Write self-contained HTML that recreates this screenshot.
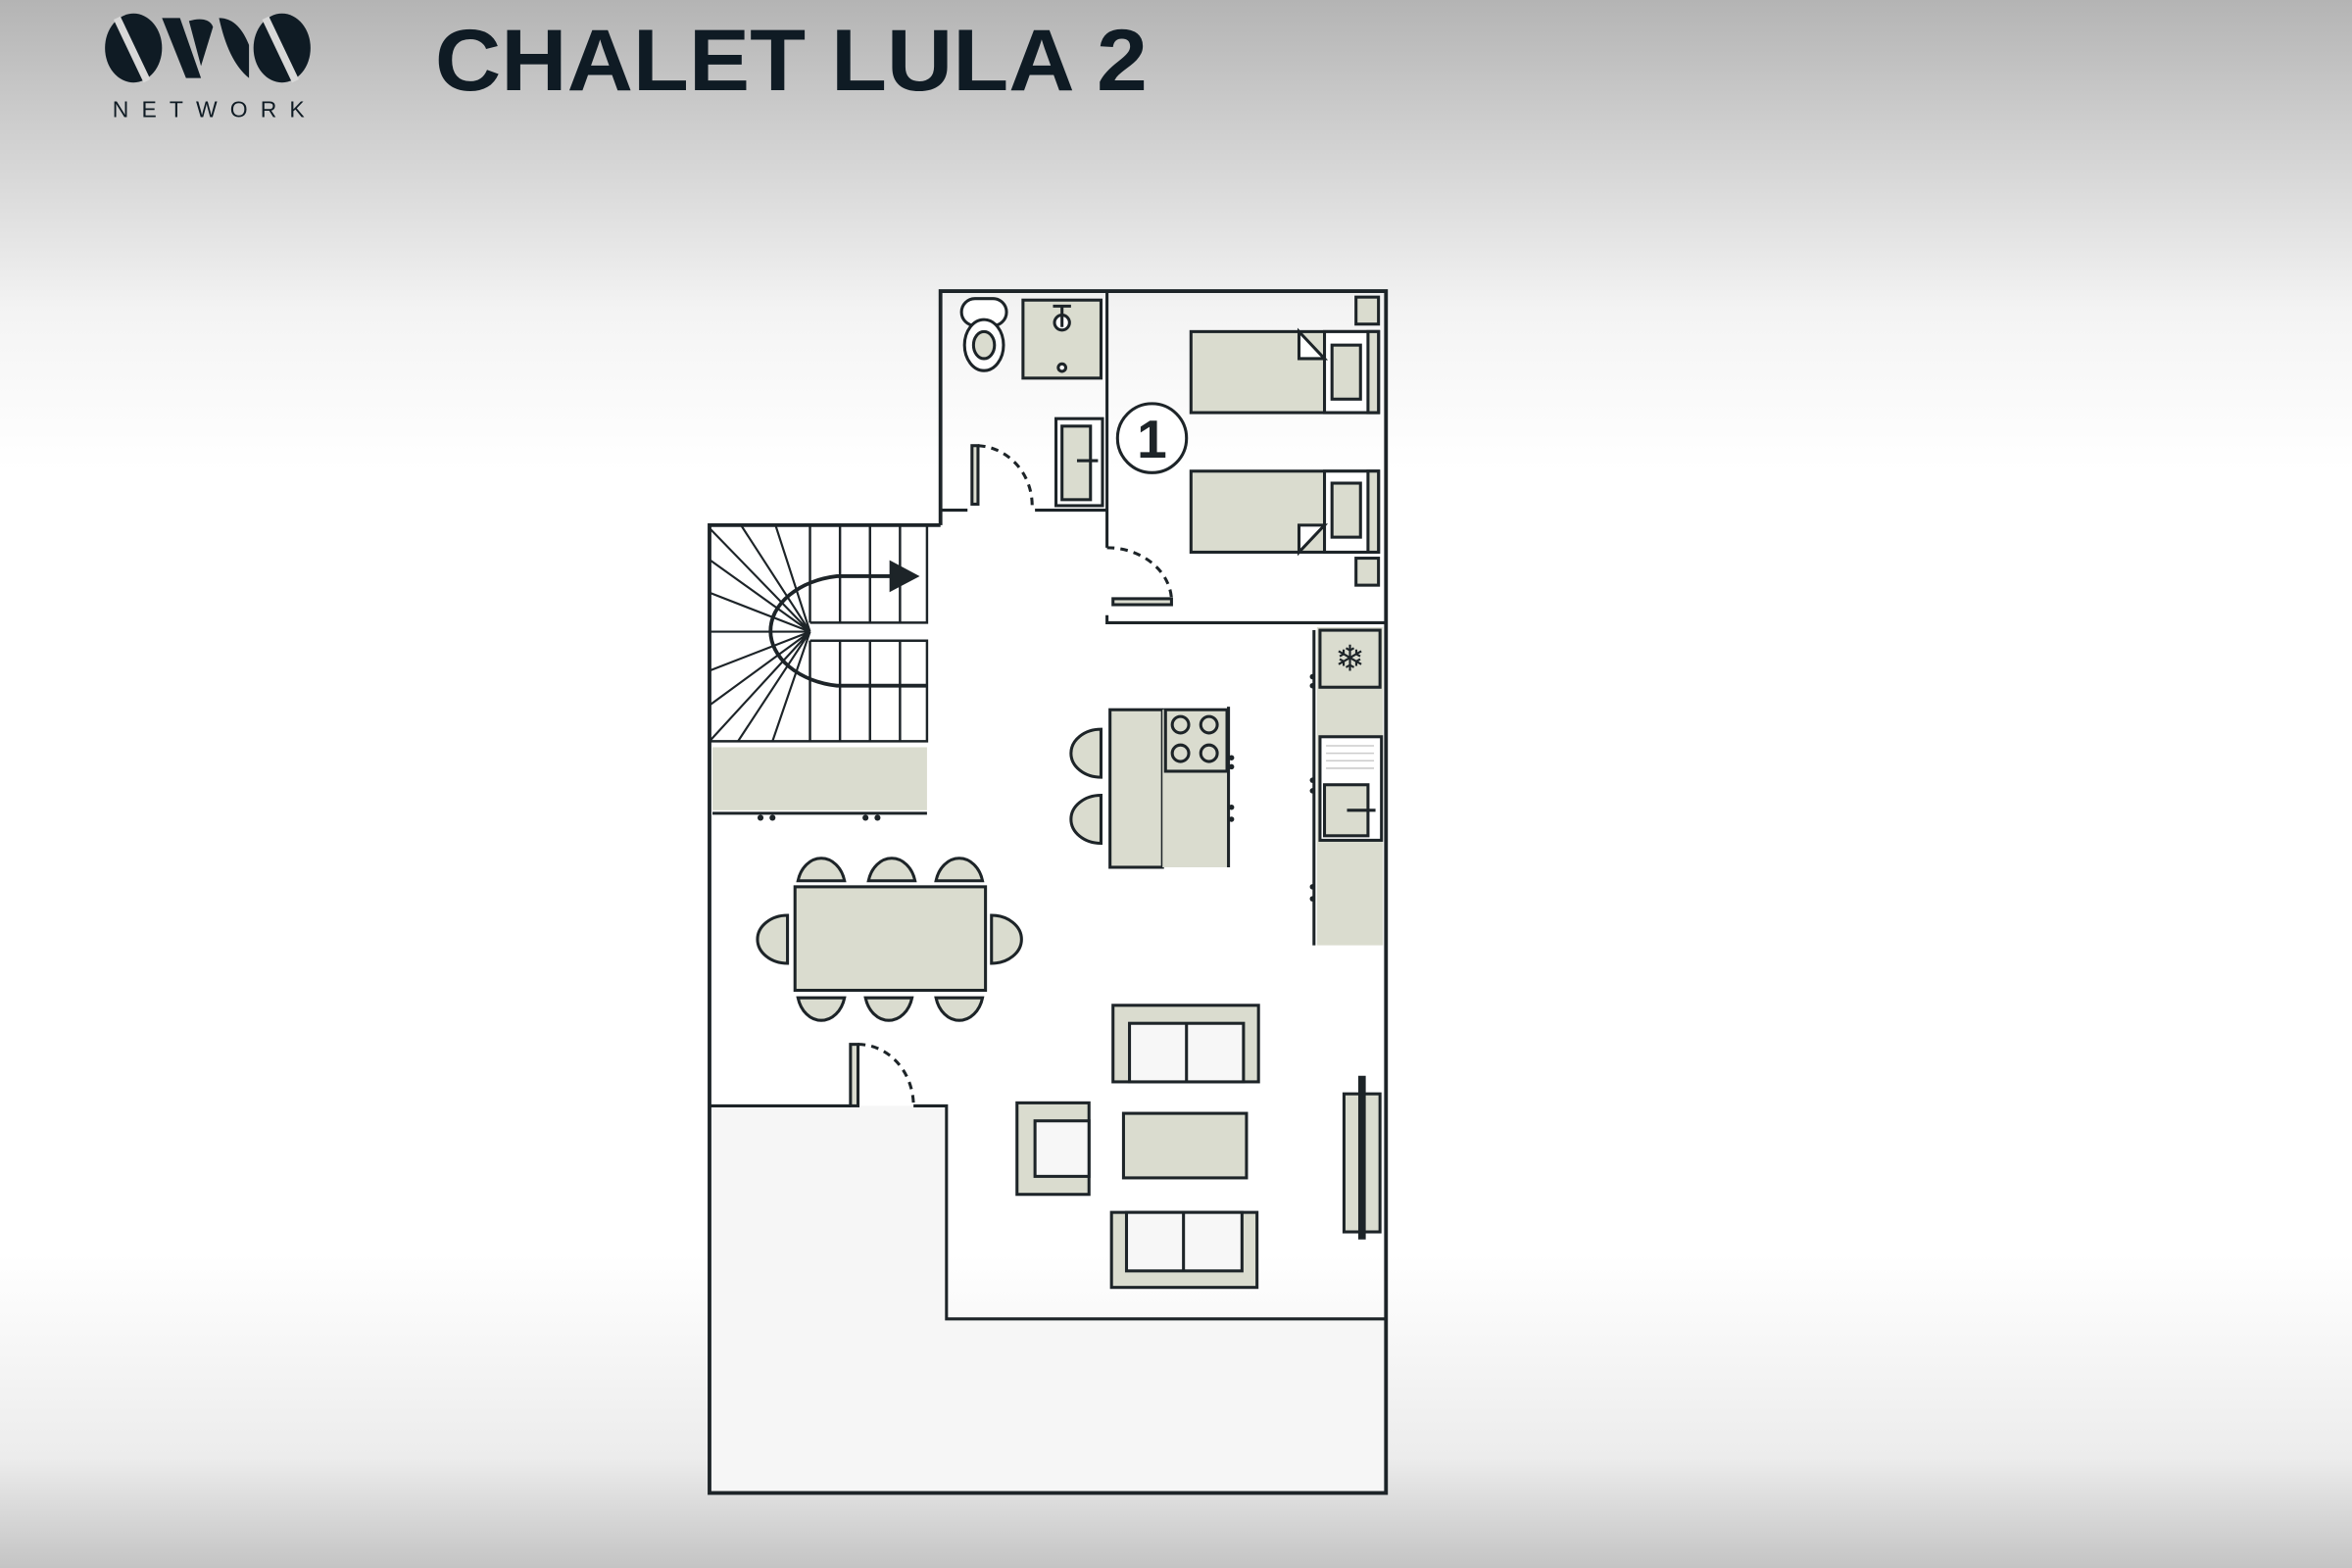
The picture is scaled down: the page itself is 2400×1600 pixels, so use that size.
<!DOCTYPE html>
<html><head><meta charset="utf-8"><style>
html,body{margin:0;padding:0;width:2400px;height:1600px;overflow:hidden}
svg{display:block}
</style></head><body>
<svg width="2400" height="1600" viewBox="0 0 1568 1045" preserveAspectRatio="none" xmlns="http://www.w3.org/2000/svg">
<defs>
<linearGradient id="bg" x1="0" y1="0" x2="0" y2="1">
<stop offset="0" stop-color="#b4b4b4"/>
<stop offset="0.2" stop-color="#f4f4f4"/>
<stop offset="0.3" stop-color="#ffffff"/>
<stop offset="0.8" stop-color="#ffffff"/>
<stop offset="0.93" stop-color="#ececec"/>
<stop offset="1" stop-color="#c4c4c4"/>
</linearGradient>
</defs>
<rect width="1568" height="1045" fill="url(#bg)"/>
<!-- logo -->
<g fill="#0f1b24">
<ellipse cx="89" cy="32" rx="19" ry="23"/>
<path d="M78 12 L98 54" stroke="#d8d8d8" stroke-width="5"/>
<path d="M108 12 L124 52 L134 52 L120 12Z"/>
<path d="M126 14 C132 12 140 12 142 18 L134 44Z"/>
<path d="M146 12 C150 30 156 44 166 52 L166 30 C162 20 156 12 146 12Z"/>
<ellipse cx="188" cy="32" rx="19" ry="23"/>
<path d="M177 12 L197 54" stroke="#d8d8d8" stroke-width="5"/>
</g>
<text x="139" y="78" font-family="Liberation Sans, sans-serif" font-size="15" fill="#0f1b24" text-anchor="middle" textLength="128" lengthAdjust="spacing">NETWORK</text>
<text x="290" y="60" font-family="Liberation Sans, sans-serif" font-weight="bold" font-size="58" fill="#0f1b24" textLength="475" lengthAdjust="spacingAndGlyphs">CHALET LULA 2</text>

<g stroke="#1d2428" stroke-width="2" fill="none">
<path d="M473 737 H631 V879 H924 V995 H473Z" fill="#f6f6f6" stroke="none"/>
<path d="M627 350 V194 H924 V995 H473 V350 H627" stroke-width="2.5"/>
<path d="M473 737 H567 M609 737 H631 V879 H924" stroke-width="2"/>
<path d="M738 194 V365 M738 410 V415 H924"/>
<path d="M627 340 H645 M690 340 H738"/>
<rect x="641" y="199" width="30" height="18" rx="9" fill="#fff"/>
<ellipse cx="656" cy="230" rx="13" ry="17" fill="#fff"/>
<ellipse cx="656" cy="230" rx="7" ry="9" fill="#dadccf"/>
<rect x="682" y="200" width="52" height="52" fill="#dadccf"/>
<circle cx="708" cy="215" r="5" fill="#fff"/><path d="M702 204 H714 M708 204 V218"/>
<circle cx="708" cy="245" r="2.5" fill="#fff"/>
<rect x="704" y="279" width="31" height="58" fill="#fff"/>
<rect x="708" y="284" width="19" height="49" fill="#dadccf"/>
<path d="M718 307 H732" stroke-width="2"/>
<rect x="648" y="297" width="4" height="39" fill="#dadccf"/>
<path d="M652 297 A38 40 0 0 1 688 340" stroke-dasharray="5 4"/>
<rect x="794" y="221" width="125" height="54" fill="#dadccf"/>
<rect x="883" y="221" width="36" height="54" fill="#fff"/>
<rect x="888" y="230" width="19" height="36" fill="#dadccf"/>
<rect x="912" y="221" width="7" height="54" fill="#dadccf"/>
<path d="M866 221 L883 239 H866Z" fill="#fff"/>
<rect x="794" y="314" width="125" height="54" fill="#dadccf"/>
<rect x="883" y="314" width="36" height="54" fill="#fff"/>
<rect x="888" y="322" width="19" height="36" fill="#dadccf"/>
<rect x="912" y="314" width="7" height="54" fill="#dadccf"/>
<path d="M866 368 L883 350 H866Z" fill="#fff"/>
<rect x="904" y="198" width="15" height="18" fill="#dadccf"/>
<rect x="904" y="372" width="15" height="18" fill="#dadccf"/>
<circle cx="768" cy="292" r="23" fill="#fff"/>
<rect x="742" y="399" width="39" height="4" fill="#dadccf"/>
<path d="M738 365 A43 36 0 0 1 781 399" stroke-dasharray="5 4"/>
<path d="M473 350 H618 V415 H540 M540 427 H618 V494 H473" stroke-width="1.6"/>
<path d="M540 350 V415 M560 350 V415 M580 350 V415 M600 350 V415 M540 427 V494 M560 427 V494 M580 427 V494 M600 427 V494" stroke-width="1.6"/>
<g stroke-width="1.4">
<path d="M540 421 L473 352 M540 421 L494 350 M540 421 L517 350 M540 421 L473 373 M540 421 L473 395 M540 421 L473 421 M540 421 L473 447 M540 421 L473 470 M540 421 L473 494 M540 421 L492 494 M540 421 L515 494"/>
</g>
<path d="M598 384 H558 A53 37 0 0 0 558 457 H618" stroke-width="2.5"/>
<path d="M594 375 L611 384 L594 393Z" fill="#1d2428"/>
<rect x="475" y="498" width="143" height="42" fill="#dadccf" stroke="none"/>
<path d="M475 542 H618"/>
<g fill="#1d2428" stroke="none"><circle cx="507" cy="545" r="2"/><circle cx="515" cy="545" r="2"/><circle cx="577" cy="545" r="2"/><circle cx="585" cy="545" r="2"/></g>
<rect x="740" y="473" width="35" height="105" fill="#dadccf"/>
<rect x="775" y="473" width="43" height="105" fill="#dadccf" stroke="none"/>
<rect x="777" y="473" width="41" height="41" fill="#dadccf"/>
<circle cx="787" cy="483" r="5.5"/><circle cx="806" cy="483" r="5.5"/><circle cx="787" cy="502" r="5.5"/><circle cx="806" cy="502" r="5.5"/>
<path d="M819 471 V578"/>
<g fill="#1d2428" stroke="none"><circle cx="821" cy="505" r="1.8"/><circle cx="821" cy="511" r="1.8"/><circle cx="821" cy="538" r="1.8"/><circle cx="821" cy="546" r="1.8"/></g>
<path d="M734 486 A20 16 0 0 0 734 518Z" fill="#dadccf"/>
<path d="M734 530 A20 16 0 0 0 734 562Z" fill="#dadccf"/>
<rect x="878" y="418" width="44" height="212" fill="#dadccf" stroke="none"/>
<path d="M876 420 V630"/>
<rect x="880" y="420" width="40" height="38" fill="#dadccf"/>
<text x="900" y="447" font-family="DejaVu Sans, sans-serif" font-size="24" fill="#1d2428" stroke="none" text-anchor="middle">❄</text>
<rect x="880" y="491" width="41" height="69" fill="#fff"/>
<path d="M884 497 H916 M884 502 H916 M884 507 H916 M884 512 H916" stroke="#ccc" stroke-width="1"/>
<rect x="883" y="523" width="29" height="34" fill="#dadccf"/>
<path d="M898 540 H917"/>
<g fill="#1d2428" stroke="none"><circle cx="875" cy="451" r="1.8"/><circle cx="875" cy="457" r="1.8"/><circle cx="875" cy="520" r="1.8"/><circle cx="875" cy="527" r="1.8"/><circle cx="875" cy="591" r="1.8"/><circle cx="875" cy="599" r="1.8"/></g>
<rect x="530" y="591" width="127" height="69" fill="#dadccf"/>
<path d="M532 587 A16 20 0 0 1 563 587Z" fill="#dadccf"/>
<path d="M579 587 A16 20 0 0 1 610 587Z" fill="#dadccf"/>
<path d="M624 587 A16 20 0 0 1 655 587Z" fill="#dadccf"/>
<path d="M532 665 A16 20 0 0 0 563 665Z" fill="#dadccf"/>
<path d="M577 665 A16 20 0 0 0 608 665Z" fill="#dadccf"/>
<path d="M624 665 A16 20 0 0 0 655 665Z" fill="#dadccf"/>
<path d="M525 610 A20 16 0 0 0 525 642Z" fill="#dadccf"/>
<path d="M661 610 A20 16 0 0 1 661 642Z" fill="#dadccf"/>
<rect x="567" y="696" width="5" height="41" fill="#dadccf"/>
<path d="M572 696 A37 41 0 0 1 609 737" stroke-dasharray="5 4"/>
<rect x="742" y="670" width="97" height="51" fill="#dadccf"/>
<rect x="753" y="682" width="76" height="39" fill="#f7f7f7"/><path d="M791 682 V721"/>
<rect x="741" y="808" width="97" height="50" fill="#dadccf"/>
<rect x="751" y="808" width="77" height="39" fill="#f7f7f7"/><path d="M789 808 V847"/>
<rect x="678" y="735" width="48" height="61" fill="#dadccf"/>
<rect x="690" y="747" width="36" height="37" fill="#f7f7f7"/>
<rect x="749" y="742" width="82" height="43" fill="#dadccf"/>
<rect x="896" y="729" width="24" height="92" fill="#dadccf"/>
<path d="M908 717 V826" stroke-width="5"/>
</g>
<text x="768" y="305" font-family="Liberation Sans, sans-serif" font-weight="bold" font-size="36" fill="#1d2428" text-anchor="middle">1</text>
</svg>
</body></html>
